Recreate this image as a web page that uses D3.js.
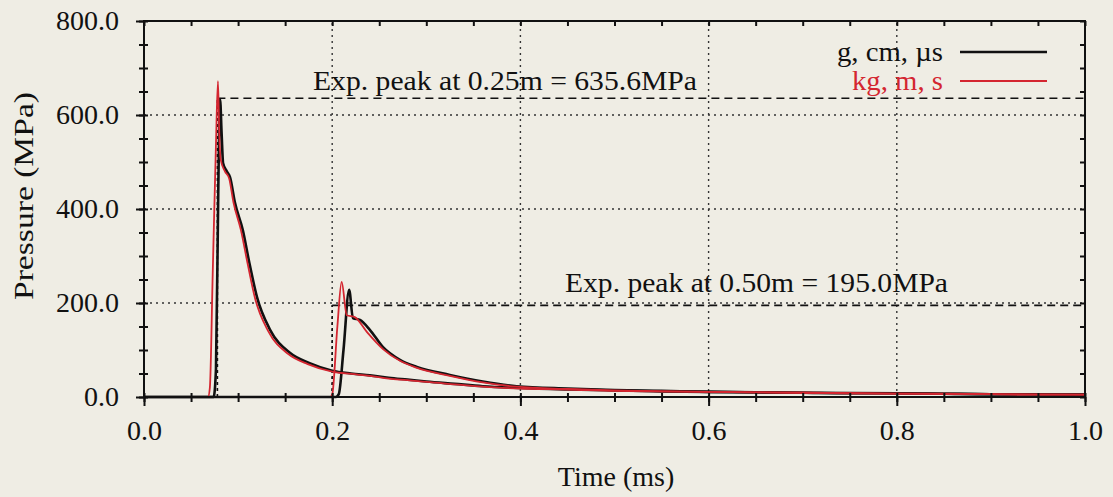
<!DOCTYPE html>
<html>
<head>
<meta charset="utf-8">
<script src="https://cdn.jsdelivr.net/npm/d3@7"></script>
<style>
  html, body { margin: 0; padding: 0; background: #efede4; }
  svg { display: block; }
  text { font-family: "Liberation Serif", "Times New Roman", serif; }
</style>
</head>
<body>
<svg id="chart" width="1113" height="497"></svg>
<script>
// ---------------- DATA ----------------
const xTicks = [0.0, 0.2, 0.4, 0.6, 0.8, 1.0];
const yTicks = [0, 200, 400, 600, 800];
const seriesNames = ["g, cm, \u00b5s", "kg, m, s"];
const seriesColors = ["#111111", "#d42630"];

// gauge at 0.25 m, g-cm-us units
const blackG1T = [0, 0.074, 0.0765, 0.079, 0.0808, 0.0825, 0.084, 0.088, 0.0914, 0.0967, 0.105, 0.112, 0.120, 0.134, 0.155, 0.176, 0.200, 0.220, 0.240, 0.260, 0.280, 0.300, 0.330, 0.360, 0.400, 0.450, 0.500, 0.550, 0.600, 0.650, 0.700, 0.750, 0.800, 0.850, 0.900, 0.950, 1.000];
const blackG1P = [0, 0, 60, 450, 634, 560, 498, 480, 468, 413, 355, 285, 213, 143, 94, 72, 56, 50, 46, 41, 37, 33, 28, 23, 19, 16, 14, 12, 11, 10, 9, 8, 8, 7, 6, 6, 5];
// gauge at 0.50 m, g-cm-us units
const blackG2T = [0, 0.204, 0.207, 0.212, 0.218, 0.222, 0.2295, 0.240, 0.254, 0.272, 0.290, 0.325, 0.360, 0.396, 0.450, 0.500, 0.550, 0.600, 0.700, 0.800, 0.900, 1.000];
const blackG2P = [0, 0, 6, 100, 228, 168, 164, 143, 106, 79, 64, 47, 33, 23, 18, 15, 13, 11, 9, 8, 6, 5];
// gauge at 0.25 m, kg-m-s units
const redG1T = [0, 0.068, 0.070, 0.073, 0.0765, 0.0786, 0.0800, 0.0815, 0.086, 0.0905, 0.095, 0.103, 0.110, 0.118, 0.132, 0.153, 0.174, 0.200, 0.220, 0.240, 0.260, 0.280, 0.300, 0.330, 0.360, 0.400, 0.450, 0.500, 0.550, 0.600, 0.650, 0.700, 0.750, 0.800, 0.850, 0.900, 0.950, 1.000];
const redG1P = [0, 0, 20, 260, 540, 672, 560, 505, 480, 465, 415, 355, 285, 210, 140, 92, 70, 54, 49, 45, 39, 36, 32, 27, 22, 18, 16, 13, 12, 11, 10, 9, 8, 7, 7, 6, 5, 5];
// gauge at 0.50 m, kg-m-s units
const redG2T = [0, 0.198, 0.200, 0.2055, 0.210, 0.2155, 0.224, 0.237, 0.254, 0.272, 0.290, 0.325, 0.360, 0.396, 0.450, 0.500, 0.550, 0.600, 0.700, 0.800, 0.900, 1.000];
const redG2P = [0, 0, 5, 150, 245, 174, 170, 138, 102, 77, 62, 45, 31, 22, 17, 14, 12, 11, 9, 7, 6, 5];

// experimental peaks
const expLabels = ["Exp. peak at 0.25m = 635.6MPa", "Exp. peak at 0.50m = 195.0MPa"];
const expPeaks = [635.6, 195.0];
const expTimes = [0.078, 0.2];

// ---------------- LAYOUT ----------------
const svg = d3.select("#chart");
const L = 144, R = 1085, T = 21, B = 397;
const x = d3.scaleLinear().domain([0, 1]).range([L, R]);
const y = d3.scaleLinear().domain([0, 800]).range([B, T]);

// grid
const grid = svg.append("g").attr("stroke", "#333").attr("stroke-width", 1.4).attr("stroke-dasharray", "2,4");
[0.2, 0.4, 0.6, 0.8].forEach(v => grid.append("line").attr("x1", x(v)).attr("x2", x(v)).attr("y1", B).attr("y2", T));
[200, 400, 600].forEach(v => grid.append("line").attr("x1", L).attr("x2", R).attr("y1", y(v)).attr("y2", y(v)));

// experimental reference lines
const exp = svg.append("g").attr("stroke", "#111").attr("stroke-width", 1.6).attr("stroke-dasharray", "8,5").attr("fill", "none");
expPeaks.forEach((p, i) => {
  exp.append("line").attr("x1", x(expTimes[i])).attr("x2", x(expTimes[i])).attr("y1", y(0)).attr("y2", y(p)).attr("stroke-dasharray", "3,3");
  exp.append("line").attr("x1", x(expTimes[i])).attr("x2", R).attr("y1", y(p)).attr("y2", y(p));
});

// curves
const line = d3.line().x(d => x(d[0])).y(d => y(d[1])).curve(d3.curveMonotoneX);
const zip = (a, b) => a.map((v, i) => [v, b[i]]);
const curves = [
  {d: zip(blackG1T, blackG1P), c: seriesColors[0], w: 2.6},
  {d: zip(blackG2T, blackG2P), c: seriesColors[0], w: 2.6},
  {d: zip(redG1T, redG1P), c: seriesColors[1], w: 1.8},
  {d: zip(redG2T, redG2P), c: seriesColors[1], w: 1.8}
];
svg.append("g").selectAll("path").data(curves).join("path")
  .attr("d", d => line(d.d)).attr("fill", "none")
  .attr("stroke", d => d.c).attr("stroke-width", d => d.w).attr("stroke-linejoin", "round");

// frame
svg.append("rect").attr("x", L).attr("y", T).attr("width", R - L).attr("height", B - T)
  .attr("fill", "none").attr("stroke", "#111").attr("stroke-width", 2);

// axes
const fmt = d3.format(".1f");
const xAxis = d3.axisBottom(x).tickValues(xTicks).tickFormat(fmt).tickSize(9).tickPadding(14);
const xMinor = d3.axisBottom(x).tickValues(d3.range(0, 1.0001, 0.05)).tickFormat("").tickSize(5);
const yAxis = d3.axisLeft(y).tickValues(yTicks).tickFormat(fmt).tickSize(8).tickPadding(17);
const yMinor = d3.axisLeft(y).tickValues(d3.range(0, 801, 50)).tickFormat("").tickSize(5);
function styleAxis(g) {
  g.select(".domain").remove();
  g.selectAll("line").attr("stroke", "#111").attr("stroke-width", 2);
  g.selectAll("text").attr("fill", "#111").attr("font-size", 28).style("font-family", "'Liberation Serif', serif");
}
svg.append("g").attr("transform", `translate(0,${B})`).call(xMinor).call(styleAxis);
svg.append("g").attr("transform", `translate(0,${B})`).call(xAxis).call(styleAxis);
svg.append("g").attr("transform", `translate(${L},0)`).call(yMinor).call(styleAxis);
svg.append("g").attr("transform", `translate(${L},0)`).call(yAxis).call(styleAxis);
// mirrored inward ticks on top and right
const xTop = d3.axisTop(x).tickValues(d3.range(0, 1.0001, 0.05)).tickFormat("").tickSizeInner(-5).tickSizeOuter(0);
const yRight = d3.axisRight(y).tickValues(d3.range(0, 801, 50)).tickFormat("").tickSizeInner(-5).tickSizeOuter(0);
svg.append("g").attr("transform", `translate(0,${T})`).call(xTop).call(styleAxis);
svg.append("g").attr("transform", `translate(${R},0)`).call(yRight).call(styleAxis);
// inward part of bottom/left ticks
const xIn = d3.axisBottom(x).tickValues(d3.range(0, 1.0001, 0.05)).tickFormat("").tickSizeInner(-4).tickSizeOuter(0);
const yIn = d3.axisLeft(y).tickValues(d3.range(0, 801, 50)).tickFormat("").tickSizeInner(-4).tickSizeOuter(0);
svg.append("g").attr("transform", `translate(0,${B})`).call(xIn).call(styleAxis);
svg.append("g").attr("transform", `translate(${L},0)`).call(yIn).call(styleAxis);

// axis titles
svg.append("text").attr("x", 616).attr("y", 486).attr("text-anchor", "middle")
  .attr("font-size", 28).attr("fill", "#111").text("Time (ms)");
svg.append("text").attr("transform", "translate(33,196) rotate(-90)").attr("text-anchor", "middle")
  .attr("font-size", 28).attr("fill", "#111").attr("textLength", 208).attr("lengthAdjust", "spacingAndGlyphs").text("Pressure (MPa)");

// annotations
svg.append("text").attr("x", 313).attr("y", 90).attr("font-size", 28).attr("fill", "#111")
  .attr("textLength", 384).attr("lengthAdjust", "spacingAndGlyphs").text(expLabels[0]);
svg.append("text").attr("x", 565).attr("y", 292).attr("font-size", 28).attr("fill", "#111")
  .attr("textLength", 383).attr("lengthAdjust", "spacingAndGlyphs").text(expLabels[1]);

// legend
const legY = [52, 81];
const legW = [106, 91];
seriesNames.forEach((n, i) => {
  svg.append("text").attr("x", 943 - legW[i]).attr("y", legY[i] + 9)
    .attr("font-size", 28).attr("fill", seriesColors[i])
    .attr("textLength", legW[i]).attr("lengthAdjust", "spacingAndGlyphs").text(n);
  svg.append("line").attr("x1", 960).attr("x2", 1047).attr("y1", legY[i]).attr("y2", legY[i])
    .attr("stroke", seriesColors[i]).attr("stroke-width", i === 0 ? 2.6 : 1.8);
});
</script>
</body>
</html>
